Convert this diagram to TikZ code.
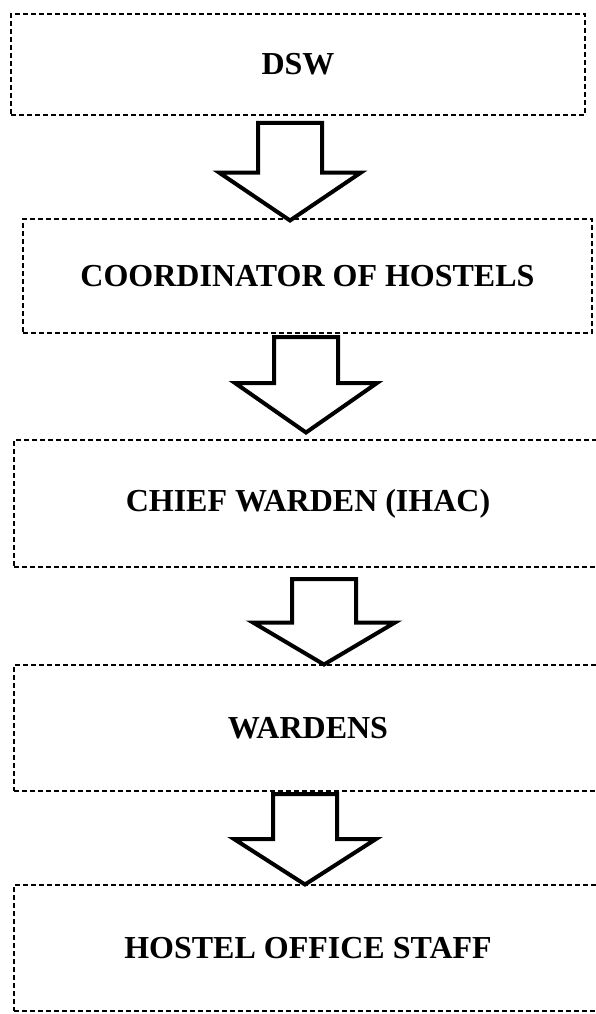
\documentclass[tikz,border=0pt]{standalone}
\usepackage{fontspec}
\setmainfont{Liberation Serif}
\usetikzlibrary{calc}

% half widths of the block arrows
\newcommand{\shafthalf}{32pt}
\newcommand{\headhalf}{71pt}

% block arrow from one box down to the next:
% #1 from, #2 to, #3 centre x, #4 gap below #1, #5 tip depth into #2, #6 head length
\newcommand{\flowarrow}[6]{%
  \draw[flow] let \p1=(#1.south), \p2=(#2.north) in
    ({#3pt-\shafthalf}, {\y1-(#4pt)}) -- ({#3pt+\shafthalf}, {\y1-(#4pt)})
    -- ({#3pt+\shafthalf}, {\y2-(#5pt)+(#6pt)}) -- ({#3pt+\headhalf}, {\y2-(#5pt)+(#6pt)})
    -- ({#3pt}, {\y2-(#5pt)})
    -- ({#3pt-\headhalf}, {\y2-(#5pt)+(#6pt)}) -- ({#3pt-\shafthalf}, {\y2-(#5pt)+(#6pt)})
    -- cycle;
}

\begin{document}
\begin{tikzpicture}[
    x=1pt,
    y=-1pt,
    box/.style={
        rectangle,
        draw=black,
        line width=1.2pt,
        dash pattern=on 5pt off 3pt,
        inner sep=0pt,
        outer sep=0pt,
        text centered,
        font=\bfseries\fontsize{32}{38}\selectfont
    },
    flow/.style={draw=black, line width=4pt, line join=miter, miter limit=20}
]
    \useasboundingbox (0,0) rectangle (595,1014);

    % Boxes
    \node[box, minimum width=574pt, minimum height=101pt] (dsw) at (298,64.5) {DSW};
    \node[box, minimum width=569pt, minimum height=114pt] (coord) at (307.5,276) {COORDINATOR OF HOSTELS};
    \node[box, minimum width=588pt, minimum height=127pt] (chief) at (308,503.5) {CHIEF WARDEN (IHAC)};
    \node[box, minimum width=588pt, minimum height=126pt] (wardens) at (308,728) {WARDENS};
    \node[box, minimum width=588pt, minimum height=126pt] (staff) at (308,948) {HOSTEL OFFICE STAFF};

    % Arrows
    \flowarrow{dsw}{coord}{290}{8}{1.5}{48}
    \flowarrow{coord}{chief}{306}{4}{-7.5}{49.5}
    \flowarrow{chief}{wardens}{324}{12}{-0.5}{42}
    \flowarrow{wardens}{staff}{305}{3}{-0.5}{45.5}
\end{tikzpicture}
\end{document}
